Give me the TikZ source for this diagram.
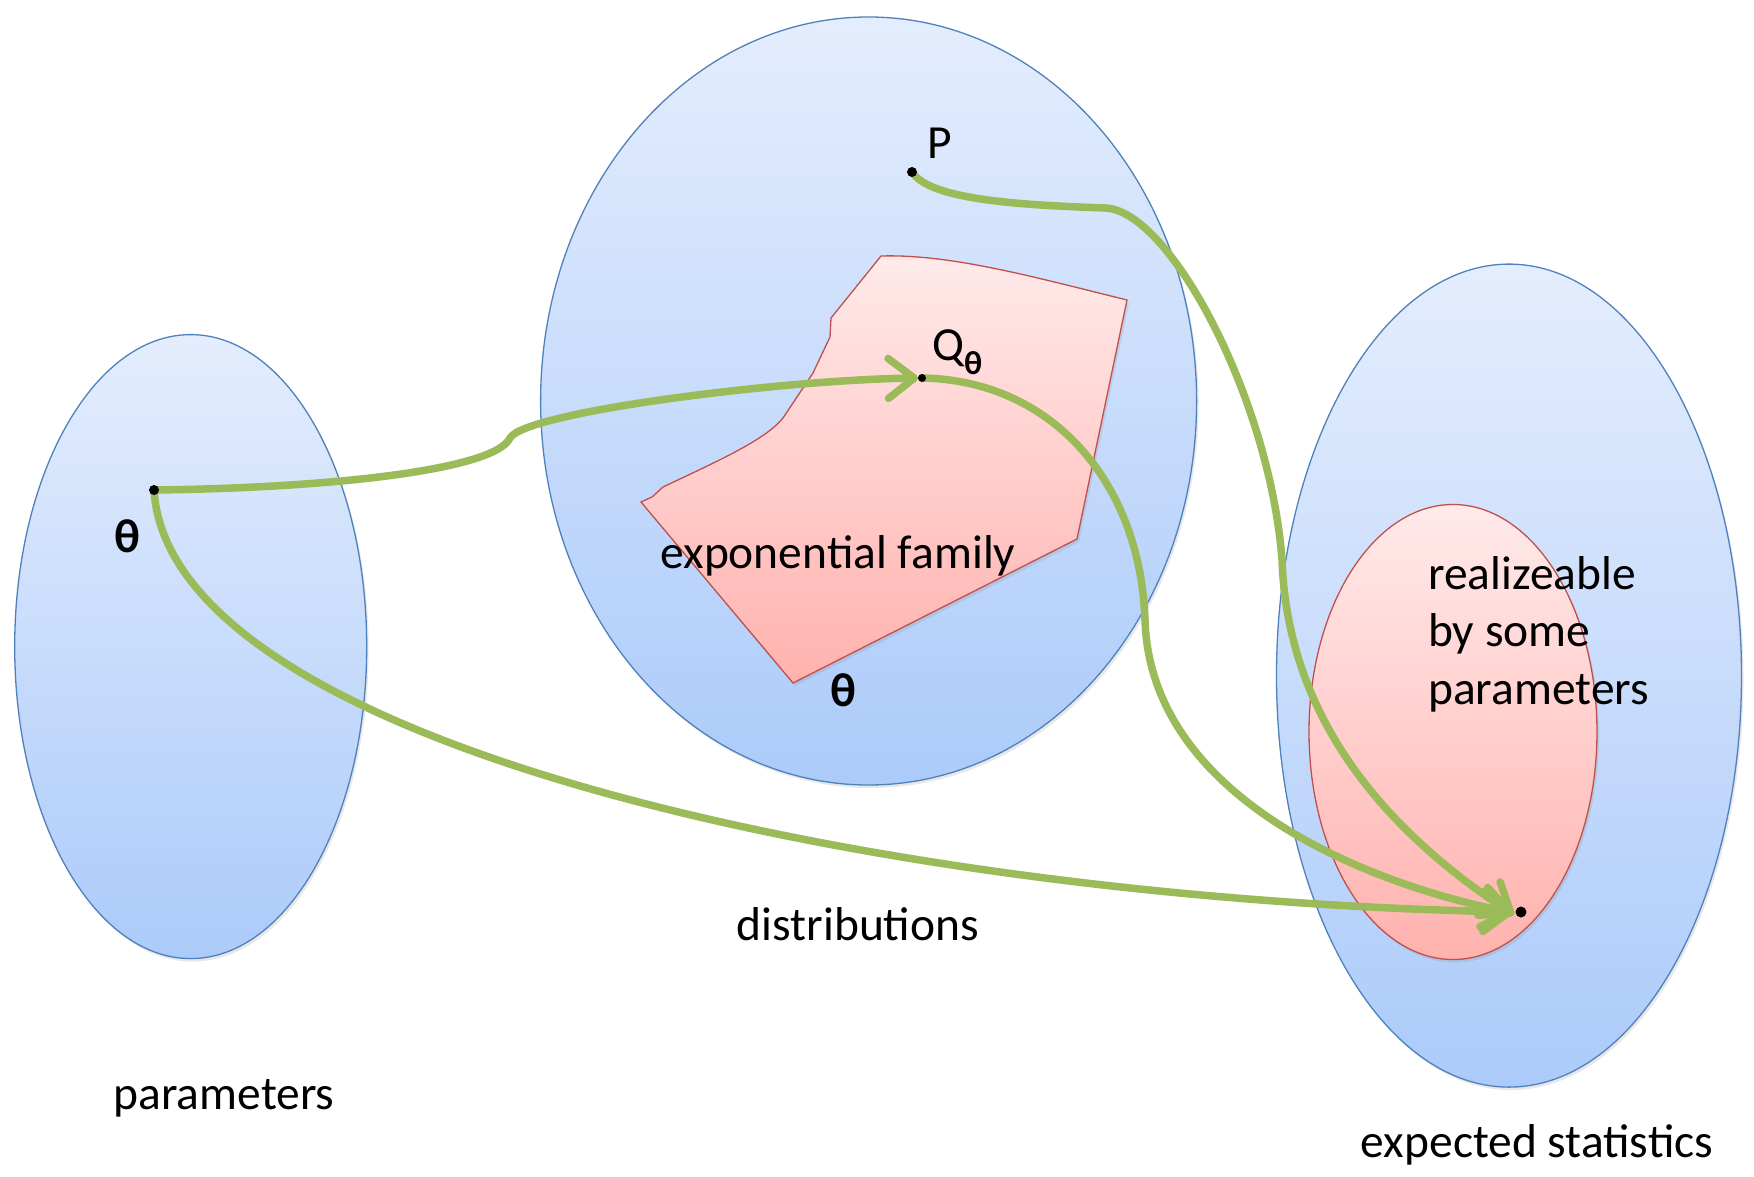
\documentclass[tikz,border=0pt]{standalone}
\usepackage{fontspec}
\setmainfont{Carlito}
\usetikzlibrary{arrows.meta,shapes.geometric,shadows}
\definecolor{blueline}{RGB}{79,129,189}
\definecolor{bluetop}{RGB}{228,237,253}
\definecolor{bluebot}{RGB}{172,203,250}
\definecolor{pinkline}{RGB}{192,80,77}
\definecolor{pinktop}{RGB}{255,234,234}
\definecolor{pinkbot}{RGB}{255,178,174}
\definecolor{arrowgreen}{RGB}{155,187,89}
\begin{document}
\begin{tikzpicture}[x=1pt,y=-1pt,
  lbl/.style={font=\fontsize{47.5}{57.5}\selectfont, inner sep=0pt},
  blueset/.style={ellipse, draw=blueline, line width=1.3pt, top color=bluetop, bottom color=bluebot, inner sep=0pt,
     drop shadow={shadow xshift=2pt, shadow yshift=-3pt, opacity=0.18}},
  pinkset/.style={draw=pinkline, line width=1.3pt, top color=pinktop, bottom color=pinkbot},
  conn/.style={draw=arrowgreen, line width=7.5pt, line cap=round, line join=round},
  arr/.style={-{Straight Barb[length=26pt,width=40pt,line cap=round,line join=round]}},
  dot/.style={fill=black}]
\useasboundingbox (0,0) rectangle (1754,1177);
\fill[white] (0,0) rectangle (1754,1177);

% sets
\node[blueset, minimum width=352pt, minimum height=624pt] (params) at (190.7,646.6) {};
\node[blueset, minimum width=656pt, minimum height=768pt] (dists) at (868.6,401) {};
\node[blueset, minimum width=465pt, minimum height=823pt] (stats) at (1509,675.6) {};
\node[ellipse, pinkset, inner sep=0pt, minimum width=288pt, minimum height=455pt,
      drop shadow={shadow xshift=2pt, shadow yshift=-3pt, opacity=0.18}] (real) at (1453,732) {};

% exponential family region
\path[pinkset, drop shadow={shadow xshift=2pt, shadow yshift=-3pt, opacity=0.18}]
  (881,256) .. controls (950,254) and (1030,276) .. (1127,300)
  -- (1077,539) -- (793,683) -- (641,502) -- (652,497) -- (663,487)
  .. controls (720,460) and (765,440) .. (783,418)
  -- (813,373) -- (830,337) -- (831,318) -- cycle;

% labels
\node[lbl] (lparams) at (224,1098) {parameters};
\node[lbl] (ldists) at (858,924) {distributions};
\node[lbl] (lexp) at (838,556) {exponential family};
\node[lbl, align=left, anchor=west] (lreal) at (1428,634) {realizeable\\by some\\parameters};
\node[lbl] (lstats) at (1537,1145) {expected statistics};
\node[lbl] (lP) at (940,143) {P};
\node[lbl, anchor=west] (lQ) at (932,352) {Q\textsubscript{\textbf{θ}}};
\node[lbl] (lth) at (127,536) {\textbf{θ}};
\node[lbl] (lth2) at (843,690) {\textbf{θ}};

% points
\coordinate (th) at (154,490);
\coordinate (Q) at (922,378);
\coordinate (P) at (912,172);
\coordinate (E) at (1521,912);
\coordinate (k1) at (510,438);
\coordinate (m3) at (1145,620);
\coordinate (m4a) at (1105,208);
\coordinate (m4b) at (1282,560);

% connectors
\draw[conn, arr] (th) .. controls (330,488) and (495,470) .. (k1)
   .. controls (525,412) and (780,380) .. ([xshift=-4pt]Q);
\draw[conn, arr] (th) .. controls (170,750) and (900,900) .. ([xshift=-8pt]E);
\draw[conn, arr] (Q) .. controls (1050,380) and (1140,480) .. (m3)
   .. controls (1150,790) and (1350,880) .. ([xshift=-8pt,yshift=-1pt]E);
\draw[conn, arr] (P) .. controls (930,200) and (1020,205) .. (m4a)
   .. controls (1170,210) and (1270,400) .. (m4b)
   .. controls (1288,730) and (1400,840) .. ([xshift=-7pt,yshift=-3pt]E);

% dots
\fill[dot] (th) circle (5pt);
\fill[dot] (Q) circle (4pt);
\fill[dot] (P) circle (5pt);
\fill[dot] (E) circle (5.5pt);
\end{tikzpicture}
\end{document}
